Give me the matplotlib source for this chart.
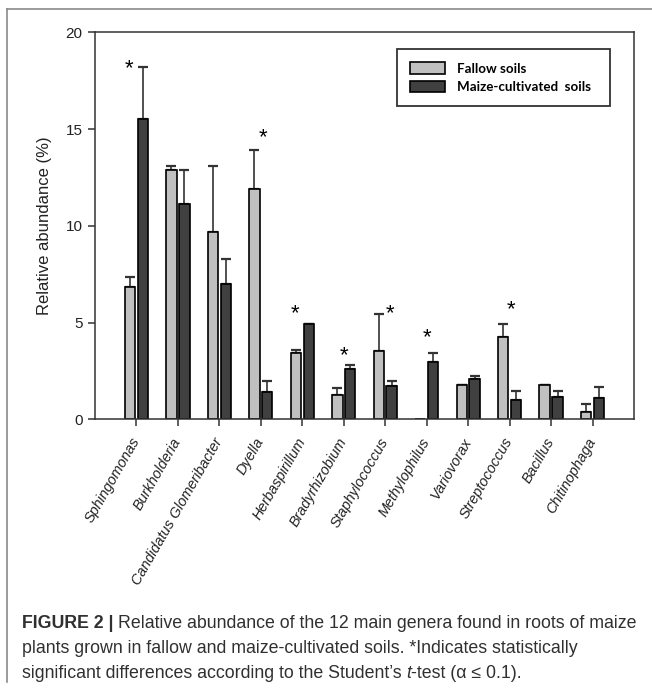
import matplotlib
matplotlib.use("Agg")
import matplotlib.pyplot as plt
import numpy as np
from matplotlib.lines import Line2D
from matplotlib.patches import Patch

categories = ['Sphingomonas', 'Burkholderia', 'Candidatus Glomeribacter', 'Dyella',
              'Herbaspirillum', 'Bradyrhizobium', 'Staphylococcus', 'Methylophilus',
              'Variovorax', 'Streptococcus', 'Bacillus', 'Chitinophaga']
fallow = [6.83, 12.87, 9.69, 11.9, 3.44, 1.25, 3.52, 0.0, 1.75, 4.27, 1.75, 0.39]
fallow_err = [0.52, 0.23, 3.41, 2.0, 0.14, 0.37, 1.90, 0.0, 0.04, 0.63, 0.04, 0.40]
maize = [15.5, 11.11, 6.98, 1.39, 4.92, 2.62, 1.72, 2.97, 2.08, 1.0, 1.17, 1.08]
maize_err = [2.72, 1.79, 1.33, 0.59, 0.02, 0.19, 0.26, 0.47, 0.15, 0.44, 0.27, 0.59]

# significance markers (category index, x offset, asterisk centre height)
sig_idx = [0, 3, 4, 5, 6, 7, 9]
sig_dx = [-0.19, 0.05, -0.17, 0.0, 0.12, 0.0, 0.04]
sig_y = [18.45, 14.9, 5.8, 3.63, 5.81, 4.56, 6.02]

yticks = [0, 5, 10, 15, 20]
series_labels = ['Fallow soils', 'Maize-cultivated  soils']

W, H = 652, 694
fig = plt.figure(figsize=(W / 100, H / 100), dpi=100)
fig.patch.set_facecolor('white')

ax = fig.add_axes([95 / W, 1 - 419.3 / H, (634 - 95) / W, (419.3 - 32.3) / H])

x = np.arange(len(categories))
bw = 0.25
off = 0.155
light, dark = '#c0c0c0', '#404040'

ax.bar(x - off, fallow, bw, color=light, edgecolor='black', linewidth=1.2, zorder=2)
ax.bar(x + off, maize, bw, color=dark, edgecolor='black', linewidth=1.2, zorder=2)
f_arr = np.array(fallow)
m_arr = np.array(maize)
mask = f_arr > 0
ax.errorbar((x - off)[mask], f_arr[mask], yerr=[np.zeros(mask.sum()), np.array(fallow_err)[mask]],
            fmt='none', ecolor='#333333', elinewidth=1.2, capsize=3.6, capthick=1.6, zorder=1)
ax.errorbar(x + off, m_arr, yerr=[np.zeros(len(x)), maize_err],
            fmt='none', ecolor='#333333', elinewidth=1.2, capsize=3.6, capthick=1.6, zorder=1)

for i, dx, yy in zip(sig_idx, sig_dx, sig_y):
    ax.text(x[i] + dx, yy - 0.62, '*', ha='center', va='baseline', fontsize=16,
            family='Liberation Sans', color='black')

ax.set_xlim(-1, len(categories))
ax.set_ylim(0, 20)
ax.set_yticks(yticks)
ax.set_yticklabels([str(t) for t in yticks], family='Liberation Sans', fontsize=11, color='#222222')
ax.set_xticks(x)
ax.set_xticklabels(categories, rotation=60, ha='right', va='center', rotation_mode='anchor',
                   family='Liberation Sans', style='italic', fontsize=10.4, color='#222222')
ax.tick_params(axis='both', direction='out', length=5, width=1.1, color='#333333')
ax.tick_params(axis='y', pad=4)
ax.tick_params(axis='x', pad=9)
for s in ax.spines.values():
    s.set_linewidth(1.1)
    s.set_color('#333333')
ax.set_ylabel('Relative abundance (%)', family='Liberation Sans', fontsize=12, color='#222222',
              labelpad=10)

handles = [Patch(facecolor=light, edgecolor='black', linewidth=1.2),
           Patch(facecolor=dark, edgecolor='black', linewidth=1.2)]
leg = ax.legend(handles, series_labels, loc='upper left',
                bbox_to_anchor=((397 - 95) / 539, (419.3 - 107) / 387, (610 - 397) / 539, (107 - 49) / 387),
                mode='expand', borderaxespad=0, fancybox=False, frameon=True,
                handlelength=2.6, handleheight=0.95, handletextpad=0.9, labelspacing=0.45,
                borderpad=1.0, prop={'family': 'Lato', 'weight': 'bold', 'size': 9.6})
leg.get_frame().set_edgecolor('black')
leg.get_frame().set_linewidth(1.3)

# outer frame
fig.add_artist(Line2D([7 / W, 7 / W], [1 - 682 / H, 1 - 9 / H], color='#8a8a8a', linewidth=1.2,
                      transform=fig.transFigure))
fig.add_artist(Line2D([7 / W, 1.0], [1 - 9 / H, 1 - 9 / H], color='#8a8a8a', linewidth=1.2,
                      transform=fig.transFigure))

# caption with mixed styles
renderer = fig.canvas.get_renderer()
cap_font = dict(family='Liberation Sans', fontsize=12.75, color='#303030')


def rich_line(segments, x0, ybase):
    xp = x0
    for txt, extra in segments:
        kw = dict(cap_font)
        kw.update(extra)
        t = fig.text(xp / W, 1 - ybase / H, txt, ha='left', va='baseline', **kw)
        bb = t.get_window_extent(renderer=renderer)
        xp += bb.width


rich_line([('FIGURE 2 | ', {'weight': 'bold'}),
           ('Relative abundance of the 12 main genera found in roots of maize', {})],
          22, 628)
rich_line([('plants grown in fallow and maize-cultivated soils. *Indicates statistically', {})],
          22, 653)
rich_line([('significant differences according to the Student\u2019s ', {}),
           ('t', {'style': 'italic'}),
           ('-test (\u03b1 \u2264 0.1).', {})], 22, 678)

fig.savefig('out.png', dpi=100, facecolor='white')
